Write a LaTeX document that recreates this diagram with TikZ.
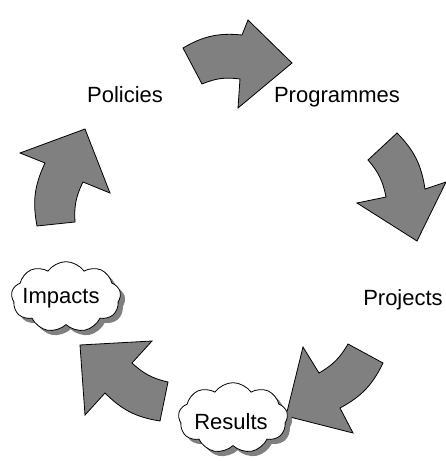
\documentclass[tikz,border=0pt]{standalone}
\usepackage{fontspec}
\setmainfont{Liberation Sans}
\usetikzlibrary{shapes.symbols,shadows}

\tikzset{
  flowarrow/.style={draw=black, fill=gray, line width=0.6pt, line join=miter},
  stage/.style={font=\fontsize{16.5}{20}\selectfont, inner sep=0pt, anchor=base},
  cloudbox/.style={cloud, cloud puffs=9, cloud puff arc=110, draw=black, fill=white,
    line width=0.6pt, minimum width=82pt, minimum height=53pt,
    drop shadow={shadow xshift=3.5pt, shadow yshift=-3.5pt, fill=gray, opacity=1}}
}

\begin{document}
\begin{tikzpicture}[x=0.75pt, y=-0.75pt]
          \useasboundingbox (0,0) rectangle (446,461);
          % the five bent arrows of the cycle
          \draw[flowarrow] (183,48) to[bend left=18] (242,35) -- (248,20) -- (292,63)
                -- (238,108) -- (240,79) to[bend right=15] (202,84) -- cycle;
          \draw[flowarrow] (397,133) to[bend left=18] (425,189) -- (446,182) -- (417,241)
                -- (357,203) -- (386,197) to[bend right=15] (368,160) -- cycle;
          \draw[flowarrow] (383,363) to[bend left=18] (340,408) -- (353,433) -- (286,416)
                -- (303,347) -- (319,373) to[bend right=15] (348,344) -- cycle;
          \draw[flowarrow] (160,421) to[bend left=18] (105,393) -- (85,415) -- (80,345)
                -- (152,341) -- (132,363) to[bend right=15] (168,382) -- cycle;
          \draw[flowarrow] (37,226) to[bend left=18] (45,163) -- (20,153) -- (85,129)
                -- (110,193) -- (83,182) to[bend right=15] (75,222) -- cycle;
          % clouds
          \node[cloudbox] (impactscloud) at (66,297) {};
          \node[cloudbox] (resultscloud) at (233,418) {};
          % labels
          \node[stage] (policies) at (125,102) {Policies};
          \node[stage] (programmes) at (337,102) {Programmes};
          \node[stage] (projects) at (403,305) {Projects};
          \node[stage] (impacts) at (61,303) {Impacts};
          \node[stage] (results) at (231,429) {Results};
      \end{tikzpicture}
\end{document}
